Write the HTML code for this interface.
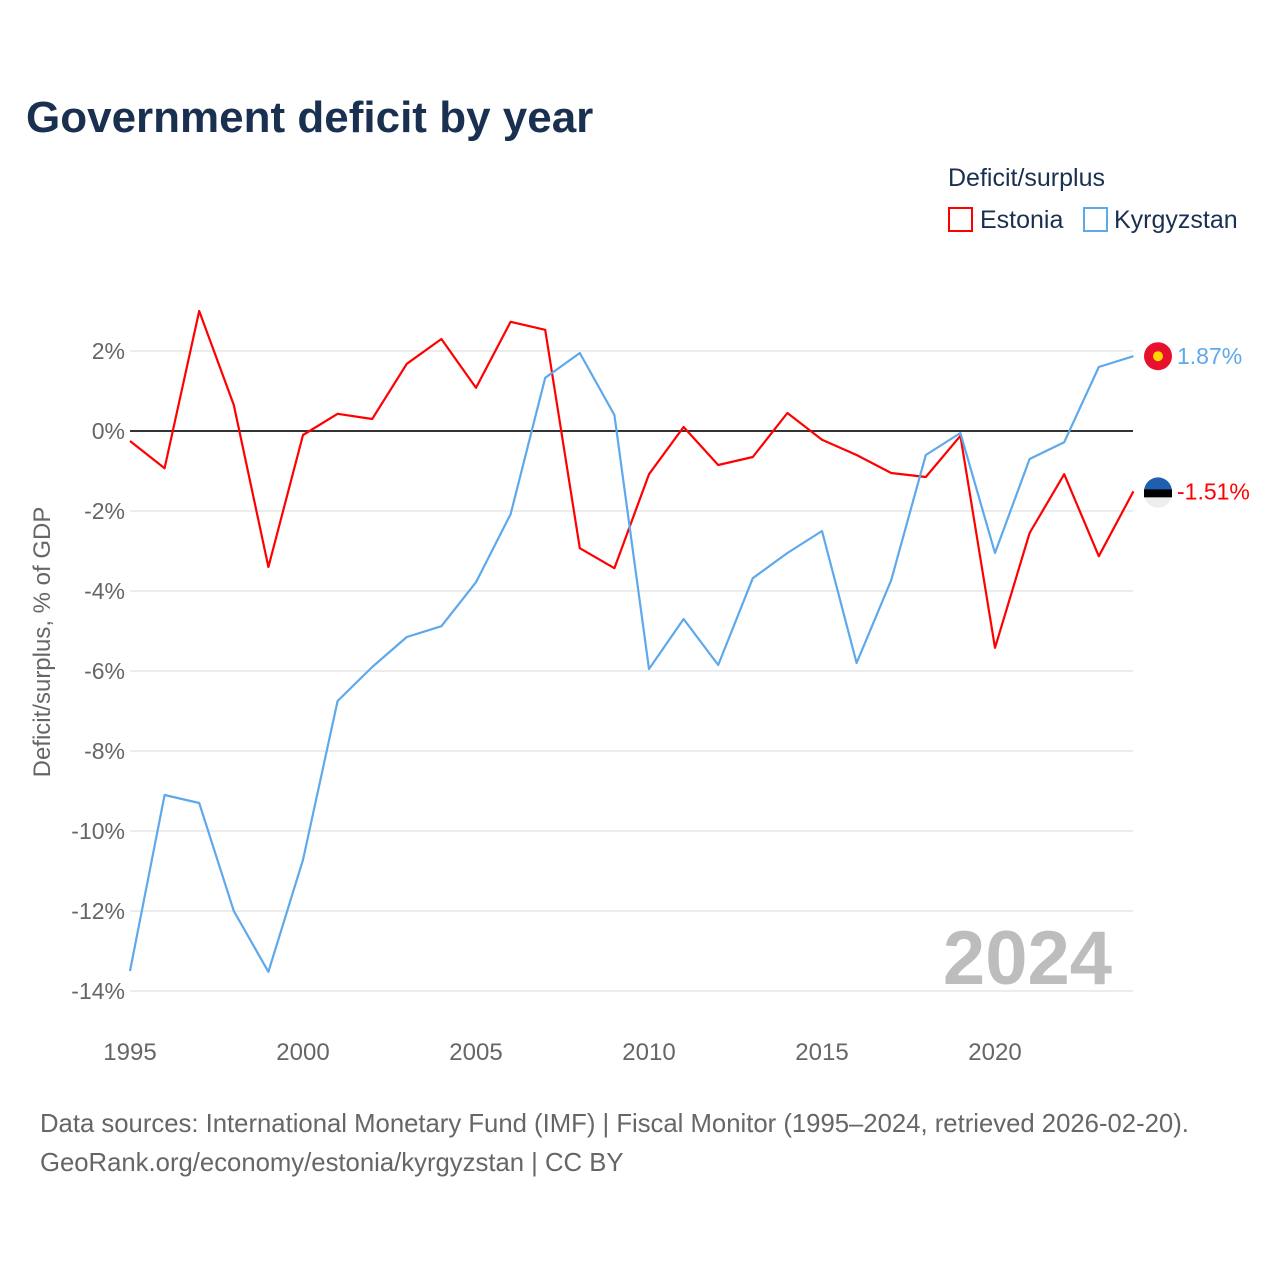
<!DOCTYPE html>
<html><head><meta charset="utf-8">
<style>
body{margin:0;background:#fff;font-family:"Liberation Sans",sans-serif;}
svg text{font-family:"Liberation Sans",sans-serif;}
</style></head>
<body>
<svg id="chart" width="1280" height="1280" xmlns="http://www.w3.org/2000/svg">
<text x="26" y="132" font-size="44" font-weight="bold" fill="#1a3050">Government deficit by year</text>
<text x="948" y="186" font-size="25" fill="#1a3050">Deficit/surplus</text>
<g>
<rect x="949" y="208" width="23" height="23" fill="none" stroke="#ff0000" stroke-width="2"/>
<text x="980" y="228" font-size="25" fill="#1a3050">Estonia</text></g>
<g>
<rect x="1084" y="208" width="23" height="23" fill="none" stroke="#5ea8ec" stroke-width="2"/>
<text x="1114" y="228" font-size="25" fill="#1a3050">Kyrgyzstan</text></g>
<text transform="translate(50,642) rotate(-90)" text-anchor="middle" font-size="24" fill="#666">Deficit/surplus, % of GDP</text>
<g id="grid"></g><g id="lines"></g>
<text x="1112" y="984" text-anchor="end" font-size="76" font-weight="bold" fill="#bdbdbd">2024</text>
<text x="40" y="1132" font-size="25.7" fill="#666">Data sources: International Monetary Fund (IMF) | Fiscal Monitor (1995–2024, retrieved 2026-02-20).</text>
<text x="40" y="1171" font-size="25.7" fill="#666">GeoRank.org/economy/estonia/kyrgyzstan | CC BY</text>
</svg>
<script>
const years=[];for(let y=1995;y<=2024;y++)years.push(y);
const estonia=[-0.25,-0.93,3.0,0.65,-3.4,-0.1,0.43,0.3,1.68,2.3,1.08,2.73,2.53,-2.93,-3.43,-1.08,0.1,-0.85,-0.65,0.45,-0.22,-0.6,-1.05,-1.15,-0.12,-5.42,-2.55,-1.08,-3.13,-1.51];
const kyrgyzstan=[-13.5,-9.1,-9.3,-12.0,-13.52,-10.72,-6.75,-5.9,-5.15,-4.88,-3.78,-2.08,1.33,1.95,0.4,-5.95,-4.7,-5.85,-3.68,-3.05,-2.5,-5.8,-3.73,-0.6,-0.05,-3.05,-0.7,-0.28,1.6,1.87];
const yTicks=[2,0,-2,-4,-6,-8,-10,-12,-14];
const xTicks=[1995,2000,2005,2010,2015,2020];
const X=y=>130+(y-1995)*34.6;
const Y=v=>431-v*40;
const NS="http://www.w3.org/2000/svg";
function mk(t,a,p){const e=document.createElementNS(NS,t);for(const k in a)e.setAttribute(k,a[k]);p.appendChild(e);return e;}
const g=document.getElementById('grid'),L=document.getElementById('lines');
yTicks.forEach(v=>{
 const l=mk('line',{x1:130,x2:1133,y1:Y(v),y2:Y(v),stroke:v===0?'#333':'#e6e6e6','stroke-width':v===0?2:1.5},g);
 
 
 const t=mk('text',{x:125,y:Y(v)+8,'text-anchor':'end','font-size':23,fill:'#666'},g);
 t.textContent=v+'%';
 
 
});
xTicks.forEach(y=>{
 const t=mk('text',{x:X(y),y:1060,'text-anchor':'middle','font-size':24,fill:'#666'},g);
 t.textContent=y;
 
 
});
function series(vals,col,name){
 const p=mk('polyline',{points:vals.map((v,i)=>X(years[i])+','+Y(v)).join(' '),fill:'none',stroke:col,'stroke-width':2.2,'stroke-linejoin':'round'},L);
 
 
 const last=vals[vals.length-1],cy=Y(last);
 const c=mk('circle',{cx:1158,cy:cy,r:14,fill:name==='estonia'?'#1f5fb0':'#e8112d'},L);
 
 
 if(name==='estonia'){mk('rect',{x:1144,y:cy-2,width:28,height:8,fill:'#000'},L);mk('path',{d:`M1144.5 ${cy+6} A14 14 0 0 0 1171.5 ${cy+6} Z`,fill:'#eee'},L);}
 else mk('circle',{cx:1158,cy:cy,r:5,fill:'#ffd700'},L);
 const t=mk('text',{x:1177,y:cy+8,'font-size':23,fill:col},L);
 t.textContent=last.toFixed(2)+'%';
 
 
}
series(estonia,'#ff0000','estonia');
series(kyrgyzstan,'#5ea8ec','kyrgyzstan');
</script>
</body></html>
